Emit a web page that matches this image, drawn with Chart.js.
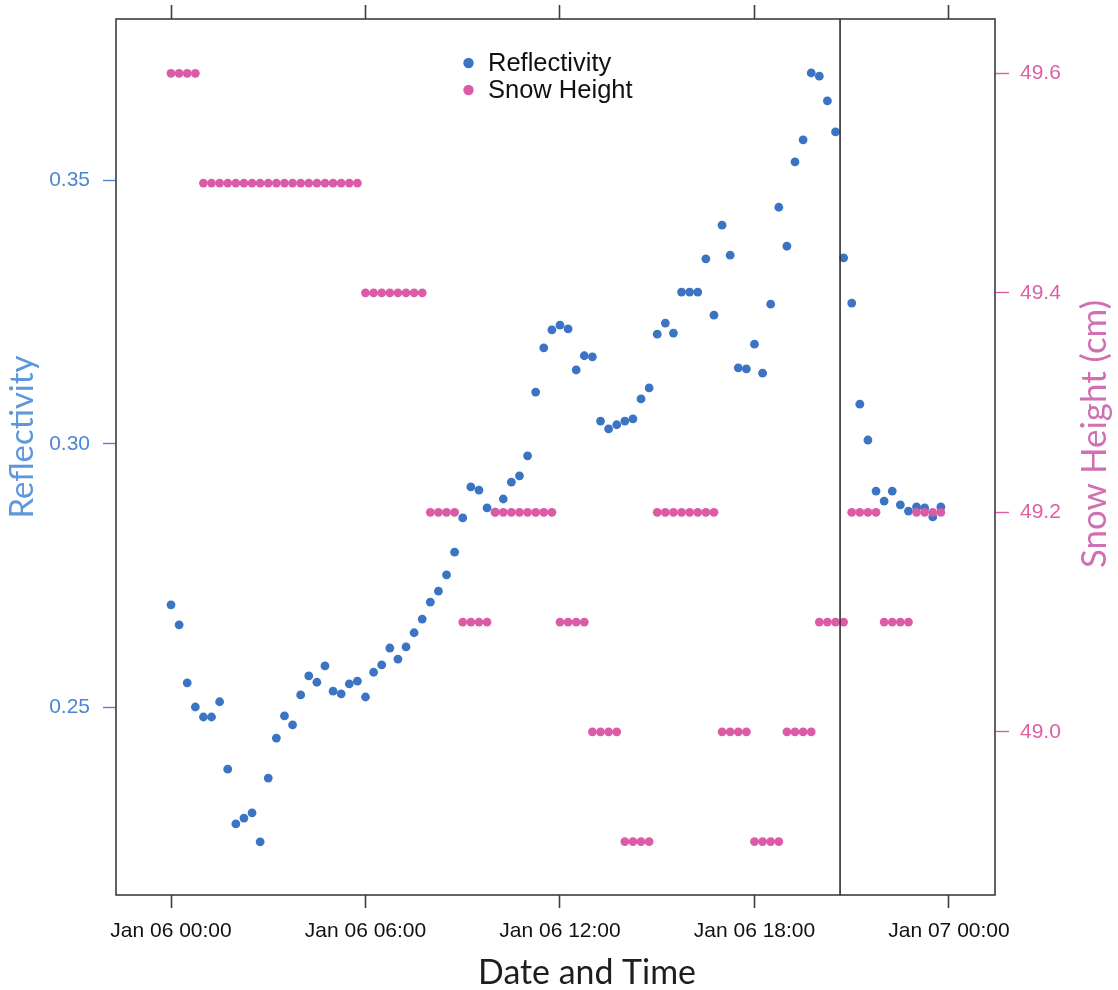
<!DOCTYPE html>
<html>
<head>
<meta charset="utf-8">
<script src="https://cdn.jsdelivr.net/npm/chart.js@4.4.1/dist/chart.umd.min.js"></script>
<style>
  html, body { margin: 0; padding: 0; background: #ffffff; }
  #wrap { width: 1118px; height: 990px; }
</style>
</head>
<body>
<div id="wrap"><canvas id="c" width="1118" height="990"></canvas></div>
<script>
// ---- data ----
const hours = [0,0.25,0.5,0.75,1,1.25,1.5,1.75,2,2.25,2.5,2.75,3,3.25,3.5,3.75,
  4,4.25,4.5,4.75,5,5.25,5.5,5.75,6,6.25,6.5,6.75,7,7.25,7.5,7.75,
  8,8.25,8.5,8.75,9,9.25,9.5,9.75,10,10.25,10.5,10.75,11,11.25,11.5,11.75,
  12,12.25,12.5,12.75,13,13.25,13.5,13.75,14,14.25,14.5,14.75,15,15.25,15.5,15.75,
  16,16.25,16.5,16.75,17,17.25,17.5,17.75,18,18.25,18.5,18.75,19,19.25,19.5,19.75,
  20,20.25,20.5,20.75,21,21.25,21.5,21.75,22,22.25,22.5,22.75,23,23.25,23.5,23.75];

const reflectivity = [
  0.2694,0.2656,0.2546,0.2500,0.2481,0.2481,0.2510,0.2382,0.2278,0.2289,
  0.2299,0.2244,0.2365,0.2441,0.2483,0.2466,0.2523,0.2559,0.2547,0.2578,
  0.2530,0.2525,0.2544,0.2549,0.2519,0.2566,0.2580,0.2612,0.2591,0.2614,
  0.2641,0.2667,0.2699,0.2720,0.2751,0.2794,0.2859,0.2918,0.2912,0.2878,
  0.2870,0.2895,0.2927,0.2939,0.2977,0.3098,0.3182,0.3216,0.3225,0.3218,
  0.3140,0.3167,0.3165,0.3043,0.3028,0.3036,0.3043,0.3047,0.3085,0.3106,
  0.3208,0.3229,0.3210,0.3288,0.3288,0.3288,0.3351,0.3244,0.3415,0.3358,
  0.3144,0.3142,0.3189,0.3134,0.3265,0.3449,0.3375,0.3535,0.3577,0.3704,
  0.3698,0.3651,0.3592,0.3353,0.3267,0.3075,0.3007,0.2910,0.2891,0.2910,
  0.2884,0.2872,0.2880,0.2878,0.2861,0.2880];

const snowHeight = [
  49.6,49.6,49.6,49.6,
  49.5,49.5,49.5,49.5,49.5,49.5,49.5,49.5,49.5,49.5,
  49.5,49.5,49.5,49.5,49.5,49.5,49.5,49.5,49.5,49.5,
  49.4,49.4,49.4,49.4,49.4,49.4,49.4,49.4,
  49.2,49.2,49.2,49.2,
  49.1,49.1,49.1,49.1,
  49.2,49.2,49.2,49.2,49.2,49.2,49.2,49.2,
  49.1,49.1,49.1,49.1,
  49.0,49.0,49.0,49.0,
  48.9,48.9,48.9,48.9,
  49.2,49.2,49.2,49.2,49.2,49.2,49.2,49.2,
  49.0,49.0,49.0,49.0,
  48.9,48.9,48.9,48.9,
  49.0,49.0,49.0,49.0,
  49.1,49.1,49.1,49.1,
  49.2,49.2,49.2,49.2,
  49.1,49.1,49.1,49.1,
  49.2,49.2,49.2,49.2];

const xTickHours = [0, 6, 12, 18, 24];
const xTickLabels = ['Jan 06 00:00', 'Jan 06 06:00', 'Jan 06 12:00', 'Jan 06 18:00', 'Jan 07 00:00'];
const reflTicks = [0.25, 0.30, 0.35];
const snowTicks = [49.0, 49.2, 49.4, 49.6];
const markerHour = 20.64;

const seriesLabels = ['Reflectivity', 'Snow Height'];
const axisTitles = { x: 'Date and Time', y: 'Reflectivity', y2: 'Snow Height (cm)' };

// ---- styles ----
const BLUE = '#3a74c3';
const PINK = '#db5ba7';
const BLUE_TXT = '#4a86d4';
const BLUE_TITLE = '#5d97dd';
const PINK_TXT = '#dd5fa6';
const PINK_TITLE = '#d070b2';
const FRAME = '#3e3e3e';
const TICKFONT = { family: 'Liberation Sans, Arial, sans-serif', size: 21 };
const TITLEFAMILY = 'Lato, "Open Sans", sans-serif';

const xRange = { min: -1.697, max: 25.42 };

function fixSize(prop, val) {
  return s => {
    s[prop] = val;
    s.paddingTop = 0; s.paddingBottom = 0; s.paddingLeft = 0; s.paddingRight = 0;
  };
}

const decorPlugin = {
  id: 'decor',
  afterDatasetsDraw(chart) {
    const { ctx, chartArea: a, scales } = chart;
    ctx.save();
    ctx.strokeStyle = FRAME;
    ctx.lineWidth = 1.6;
    ctx.strokeRect(a.left, a.top, a.right - a.left, a.bottom - a.top);
    const xm = scales.x.getPixelForValue(markerHour);
    ctx.strokeStyle = '#2e2e2e';
    ctx.lineWidth = 1.6;
    ctx.beginPath();
    ctx.moveTo(xm, a.top);
    ctx.lineTo(xm, a.bottom);
    ctx.stroke();
    ctx.restore();
  },
  afterDraw(chart) {
    const { ctx } = chart;
    ctx.save();
    // legend
    const ds = chart.data.datasets;
    const rows = [63, 90];
    ctx.font = '25.5px "Liberation Sans", Arial, sans-serif';
    ctx.textBaseline = 'middle';
    ctx.textAlign = 'left';
    ds.forEach((d, i) => {
      ctx.fillStyle = d.backgroundColor;
      ctx.beginPath();
      ctx.arc(468.5, rows[i], 5.2, 0, Math.PI * 2);
      ctx.fill();
      ctx.fillStyle = '#111111';
      ctx.fillText(d.label, 488, rows[i] + 1);
    });
    function fitFont(text, target, weight) {
      ctx.font = weight + ' 30px ' + TITLEFAMILY;
      const w = ctx.measureText(text).width;
      return weight + ' ' + (30 * target / w).toFixed(2) + 'px ' + TITLEFAMILY;
    }
    ctx.font = fitFont(axisTitles.x, 218, '400');
    ctx.fillStyle = '#1e1e1e';
    ctx.textAlign = 'center';
    ctx.textBaseline = 'alphabetic';
    ctx.fillText(axisTitles.x, 587, 984);
    ctx.font = fitFont(axisTitles.y, 163, '400');
    ctx.fillStyle = BLUE_TITLE;
    ctx.translate(33, 437);
    ctx.rotate(-Math.PI / 2);
    ctx.fillText(axisTitles.y, 0, 0);
    ctx.setTransform(1, 0, 0, 1, 0, 0);
    ctx.font = fitFont(axisTitles.y2, 268, '400');
    ctx.fillStyle = PINK_TITLE;
    ctx.translate(1106, 434);
    ctx.rotate(-Math.PI / 2);
    ctx.fillText(axisTitles.y2, 0, 0);
    ctx.restore();
  }
};

new Chart(document.getElementById('c'), {
  type: 'scatter',
  data: {
    datasets: [
      {
        label: seriesLabels[0],
        data: hours.map((h, i) => ({ x: h, y: reflectivity[i] })),
        yAxisID: 'y',
        backgroundColor: BLUE,
        borderWidth: 0,
        pointRadius: 4.4,
        order: 2
      },
      {
        label: seriesLabels[1],
        data: hours.map((h, i) => ({ x: h, y: snowHeight[i] })),
        yAxisID: 'y2',
        backgroundColor: PINK,
        borderWidth: 0,
        pointRadius: 4.4,
        order: 1
      }
    ]
  },
  options: {
    responsive: false,
    animation: false,
    layout: { padding: 0 },
    plugins: { legend: { display: false }, tooltip: { enabled: false } },
    scales: {
      x: {
        type: 'linear', position: 'bottom', min: xRange.min, max: xRange.max,
        afterBuildTicks: s => { s.ticks = xTickHours.map(v => ({ value: v })); },
        afterFit: fixSize('height', 95),
        ticks: {
          autoSkip: false, maxRotation: 0, minRotation: 0, padding: 11,
          font: TICKFONT, color: '#111111',
          callback: (v, i) => xTickLabels[i]
        },
        grid: { drawOnChartArea: false, drawTicks: true, tickLength: 13, tickColor: FRAME, tickWidth: 1.6 },
        border: { display: false },
        title: { display: false }
      },
      xTop: {
        type: 'linear', position: 'top', min: xRange.min, max: xRange.max,
        afterBuildTicks: s => { s.ticks = xTickHours.map(v => ({ value: v })); },
        afterFit: fixSize('height', 19),
        ticks: { display: false },
        grid: { drawOnChartArea: false, drawTicks: true, tickLength: 14, tickColor: FRAME, tickWidth: 1.6 },
        border: { display: false }
      },
      y: {
        type: 'linear', position: 'left', min: 0.2143, max: 0.38065,
        afterBuildTicks: s => { s.ticks = reflTicks.map(v => ({ value: v })); },
        afterFit: fixSize('width', 116),
        ticks: {
          padding: 13, font: TICKFONT, color: BLUE_TXT,
          callback: v => v.toFixed(2)
        },
        grid: { drawOnChartArea: false, drawTicks: true, tickLength: 13, tickColor: BLUE_TXT, tickWidth: 1.4 },
        border: { display: false }
      },
      y2: {
        type: 'linear', position: 'right', min: 48.8513, max: 49.6495,
        afterBuildTicks: s => { s.ticks = snowTicks.map(v => ({ value: v })); },
        afterFit: fixSize('width', 123),
        ticks: {
          padding: 11, font: TICKFONT, color: PINK_TXT,
          callback: v => v.toFixed(1)
        },
        grid: { drawOnChartArea: false, drawTicks: true, tickLength: 14, tickColor: PINK_TXT, tickWidth: 1.4 },
        border: { display: false }
      }
    }
  },
  plugins: [decorPlugin]
});
</script>
</body>
</html>
